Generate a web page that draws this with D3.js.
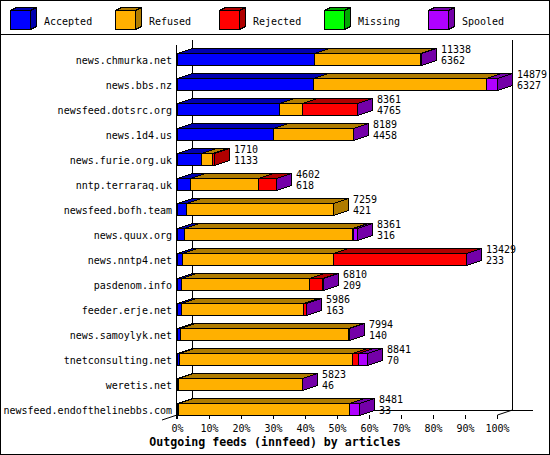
<!DOCTYPE html>
<html>
<head>
<meta charset="utf-8">
<script src="https://cdn.jsdelivr.net/npm/d3@7"></script>
<style>
  html, body { margin: 0; padding: 0; background: #fff; }
  svg { display: block; }
  text { font-family: "DejaVu Sans Mono", "Liberation Mono", monospace; font-size: 10px; fill: #000; }
</style>
</head>
<body>
<script>
// ---- data ----
const categories = [
  "news.chmurka.net", "news.bbs.nz", "newsfeed.dotsrc.org", "news.1d4.us",
  "news.furie.org.uk", "nntp.terraraq.uk", "newsfeed.bofh.team", "news.quux.org",
  "news.nntp4.net", "pasdenom.info", "feeder.erje.net", "news.samoylyk.net",
  "tnetconsulting.net", "weretis.net", "newsfeed.endofthelinebbs.com"
];
const totals   = [11338, 14879, 8361, 8189, 1710, 4602, 7259, 8361, 13429, 6810, 5986, 7994, 8841, 5823, 8481];
const accepted = [6362, 6327, 4765, 4458, 1133, 618, 421, 316, 233, 209, 163, 140, 70, 46, 33];
const refused  = [4946, 8052, 1032, 3721, 505, 3163, 6838, 7809, 7009, 5944, 5693, 7800, 8056, 5767, 7967];
const rejected = [0, 0, 2554, 0, 72, 811, 0, 70, 6177, 572, 120, 0, 279, 0, 0];
const missing  = [0, 0, 0, 0, 0, 0, 0, 0, 0, 0, 0, 0, 0, 0, 0];
const spooled  = [30, 500, 10, 10, 0, 10, 0, 166, 10, 85, 10, 54, 436, 10, 481];
const seriesNames = ["Accepted", "Refused", "Rejected", "Missing", "Spooled"];
const tickValues = [0, 10, 20, 30, 40, 50, 60, 70, 80, 90, 100];
const title = "Outgoing feeds (innfeed) by articles";

const frontColors = {Accepted: "#0000ff", Refused: "#ffb000", Rejected: "#ff0000", Missing: "#00ff00", Spooled: "#b000ff"};
const darkColors  = {Accepted: "#0000b0", Refused: "#b07c00", Rejected: "#b00000", Missing: "#00a800", Spooled: "#7400a8"};

const rows = categories.map((c, i) => ({
  cat: c, total: totals[i], acc: accepted[i],
  Accepted: accepted[i], Refused: refused[i], Rejected: rejected[i], Missing: missing[i], Spooled: spooled[i]
}));

const W = 550, H = 455;
const DX = 15, DY = 5;
const svg = d3.select("body").append("svg").attr("width", W).attr("height", H)
  .attr("shape-rendering", "crispEdges");

// border + legend divider
svg.append("rect").attr("x", 0.5).attr("y", 0.5).attr("width", W - 1).attr("height", H - 1)
  .attr("fill", "#fff").attr("stroke", "#000");
svg.append("line").attr("x1", 0).attr("x2", W).attr("y1", 34.5).attr("y2", 34.5).attr("stroke", "#000");

// legend
const leg = svg.append("g").selectAll("g").data(seriesNames).join("g")
  .attr("transform", (d, i) => `translate(${Math.round(10 + 104.5 * i)},0)`);
leg.append("polygon").attr("points", "10.5,10.5 16.5,7.5 36.5,7.5 30.5,10.5").attr("transform", "translate(-10,0)")
  .attr("fill", d => darkColors[d]).attr("stroke", "#000");
leg.append("polygon").attr("points", "30.5,10.5 36.5,7.5 36.5,26.5 30.5,29.5").attr("transform", "translate(-10,0)")
  .attr("fill", d => darkColors[d]).attr("stroke", "#000");
leg.append("rect").attr("x", 0.5).attr("y", 10.5).attr("width", 20).attr("height", 19)
  .attr("fill", d => frontColors[d]).attr("stroke", "#000");
leg.append("text").attr("x", 34).attr("y", 24.5).text(d => d);

// scales
const x = d3.scaleLinear().domain([0, d3.max(totals)]).range([177, 497]);
const pct = d3.scaleLinear().domain([0, 100]).range([177, 497]);
const y = d3.scaleBand().domain(categories).range([46.75, 421.75]).paddingInner(0.5).paddingOuter(0.25);
const BH = 12;
const px = v => Math.round(v) + 0.5;

// back walls / floor
const frame = svg.append("g").attr("stroke", "#000").attr("fill", "none");
frame.append("line").attr("x1", 192.5).attr("x2", 192.5).attr("y1", 40).attr("y2", 411);
frame.append("line").attr("x1", 512.5).attr("x2", 512.5).attr("y1", 40).attr("y2", 411);
frame.append("line").attr("x1", 192).attr("x2", 533).attr("y1", 410.5).attr("y2", 410.5);
frame.append("line").attr("x1", 176.5).attr("x2", 176.5).attr("y1", 45).attr("y2", 419);
frame.append("line").attr("x1", 162).attr("x2", 192).attr("y1", 420).attr("y2", 410).attr("shape-rendering", "auto");
frame.append("line").attr("x1", 497.5).attr("x2", 512.5).attr("y1", 415).attr("y2", 410).attr("shape-rendering", "auto");

// stacked bars
const stacked = d3.stack().keys(seriesNames)(rows);
const segs = [];
stacked.forEach(layer => layer.forEach((d, i) => {
  if (d[1] - d[0] > 0) segs.push({key: layer.key, i, x0: d[0], x1: d[1], cat: rows[i].cat});
}));

const bars = svg.append("g");
categories.forEach((c, i) => {
  const g = bars.append("g");
  const top = Math.round(y(c)) + 0.5;
  const bottom = top + BH;
  const mySegs = segs.filter(s => s.i === i);
  mySegs.forEach(s => {
    const a = px(x(s.x0)), b = px(x(s.x1));
    g.append("polygon")
      .attr("points", `${a},${top} ${a + DX},${top - DY} ${b + DX},${top - DY} ${b},${top}`)
      .attr("fill", darkColors[s.key]).attr("stroke", "#000");
    g.append("rect").attr("x", a).attr("y", top).attr("width", Math.max(0, b - a)).attr("height", BH)
      .attr("fill", frontColors[s.key]).attr("stroke", "#000");
  });
  const last = mySegs[mySegs.length - 1];
  const e = px(x(last.x1));
  g.append("polygon")
    .attr("points", `${e},${top} ${e + DX},${top - DY} ${e + DX},${bottom - DY} ${e},${bottom}`)
    .attr("fill", darkColors[last.key]).attr("stroke", "#000");
  // value labels
  const lx = Math.round(x(rows[i].total)) + DX + 5;
  g.append("text").attr("x", lx).attr("y", top - 0.5).text(rows[i].total);
  g.append("text").attr("x", lx).attr("y", top + 10.5).text(rows[i].acc);
  // category label
  svg.append("text").attr("x", 172).attr("y", top + 10.5).attr("text-anchor", "end").text(c);
});

// x axis
const axis = svg.append("g").attr("transform", "translate(0,415)")
  .call(d3.axisBottom(pct).tickValues(tickValues).tickFormat(d => d + "%").tickSize(4).tickSizeOuter(0));
axis.select(".domain").remove();
axis.selectAll("line").attr("stroke", "#000");
axis.selectAll("text").attr("y", 17).attr("dy", 0)
  .style("font-family", '"DejaVu Sans Mono", monospace').style("font-size", "10px").attr("fill", "#000");

// title
svg.append("text").attr("x", 275).attr("y", 446).attr("text-anchor", "middle")
  .style("font-weight", "bold").style("font-size", "11.6px").text(title);
</script>
</body>
</html>
